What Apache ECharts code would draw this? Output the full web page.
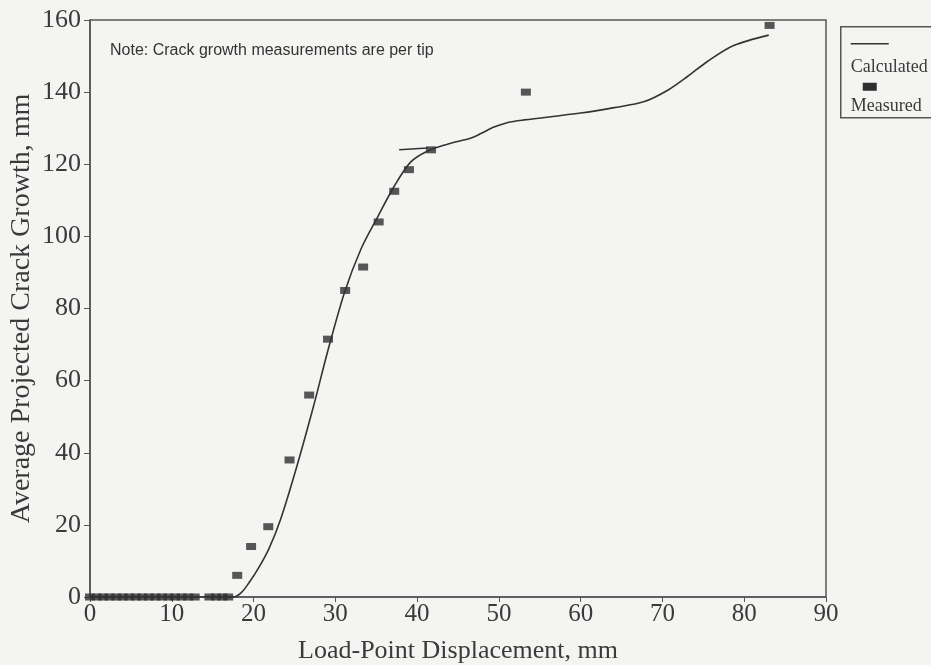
<!DOCTYPE html>
<html>
<head>
<meta charset="utf-8">
<script src="https://cdn.jsdelivr.net/npm/echarts@6/dist/echarts.min.js"></script>
<style>
  html, body { margin: 0; padding: 0; background: #f4f4f2; }
  #chart { width: 931px; height: 665px; }
</style>
</head>
<body>
<div id="chart"></div>
<script>
// measured points (displacement mm, crack growth mm)
const measuredX = [0, 0.8, 1.6, 2.4, 3.2, 4.0, 4.8, 5.6, 6.4, 7.2, 8.0, 8.8, 9.6, 10.4, 11.2, 12.0, 12.8,
  14.6, 15.4, 16.2, 16.9,
  18.0, 19.7, 21.8, 24.4, 26.8, 29.1, 31.2, 33.4, 35.3, 37.2, 39.0, 41.7, 53.3, 83.1]
const measuredY = [0, 0, 0, 0, 0, 0, 0, 0, 0, 0, 0, 0, 0, 0, 0, 0, 0,
  0, 0, 0, 0,
  6, 14, 19.5, 38, 56, 71.5, 85, 91.5, 104, 112.5, 118.5, 124, 140, 158.5]

// calculated curve
const calcX = [0, 17.6, 18.5, 19.4, 20.6, 21.9, 23.3, 25.2, 27.3, 29.1, 31.1, 33.1, 35.2, 37.2, 39.2, 41.3,
  43.8, 46.6, 47.8, 49.4, 51.1, 53.1, 60, 64.1, 67.7, 70.7, 73.1, 75.5, 78.7, 83]
const calcY = [0, 0, 1.2, 3.8, 8, 13.5, 21.5, 35.5, 52.6, 68.4, 84.3, 96.3, 105.5, 113.9, 120.6, 123.7,
  125.6, 127.3, 128.5, 130.3, 131.6, 132.3, 134.2, 135.7, 137.3, 140.6, 144.4, 148.5, 152.9, 155.8]
// short stub near the knee
const stubX = [37.8, 41.3]
const stubY = [124, 124.5]

const xTicks = { min: 0, max: 90, interval: 10 }
const yTicks = { min: 0, max: 160, interval: 20 }

const zip = (xs, ys) => xs.map((x, i) => [x, ys[i]])

const serif = "\"Liberation Serif\", \"DejaVu Serif\", serif"
const ink = "#3a3a3a"

const chart = echarts.init(document.getElementById("chart"))
const option = {
  animation: false,
  backgroundColor: "#f4f4f2",
  title: {
    text: "Note: Crack growth measurements are per tip",
    left: 105,
    top: 38,
    textStyle: {
      fontFamily: "\"Liberation Sans\", Arial, sans-serif",
      fontSize: 16,
      fontWeight: "normal",
      color: "#333"
    }
  },
  grid: {
    left: 90,
    right: 105,
    top: 20,
    bottom: 68,
    outerBoundsMode: "none",
    containLabel: false,
    show: true,
    borderColor: "#555",
    borderWidth: 1.5,
    backgroundColor: "transparent"
  },
  xAxis: {
    type: "value",
    min: xTicks.min,
    max: xTicks.max,
    interval: xTicks.interval,
    name: "Load-Point Displacement, mm",
    nameLocation: "middle",
    nameGap: 41,
    nameTextStyle: { fontFamily: serif, fontSize: 26, color: ink },
    axisLine: { show: true, lineStyle: { color: "#555", width: 1.5 } },
    axisTick: { show: true, length: 5, lineStyle: { color: "#555" } },
    axisLabel: { fontFamily: serif, fontSize: 25, color: ink, margin: 5 },
    splitLine: { show: false }
  },
  yAxis: {
    type: "value",
    min: yTicks.min,
    max: yTicks.max,
    interval: yTicks.interval,
    name: "Average Projected Crack Growth, mm",
    nameLocation: "middle",
    nameGap: 54,
    nameMoveOverlap: false,
    nameTextStyle: { fontFamily: serif, fontSize: 28, color: ink },
    axisLine: { show: true, lineStyle: { color: "#555", width: 1.5 } },
    axisTick: { show: true, length: 6, lineStyle: { color: "#555" } },
    axisLabel: { fontFamily: serif, fontSize: 26, color: ink, margin: 9 },
    splitLine: { show: false }
  },
  series: [
    {
      name: "Calculated",
      type: "line",
      smooth: 0.3,
      showSymbol: false,
      lineStyle: { color: "#333", width: 1.6 },
      data: zip(calcX, calcY)
    },
    {
      name: "Calculated",
      type: "line",
      showSymbol: false,
      lineStyle: { color: "#333", width: 1.6 },
      data: zip(stubX, stubY)
    },
    {
      name: "Measured",
      type: "scatter",
      symbol: "rect",
      symbolSize: [10, 7],
      itemStyle: { color: "#2e2e2e" },
      data: zip(measuredX, measuredY)
    }
  ],
  graphic: [
    {
      type: "group",
      left: 840,
      top: 26,
      children: [
        { type: "rect", shape: { x: 0, y: 0, width: 110, height: 91 },
          style: { fill: "transparent", stroke: "#555", lineWidth: 1.5 } },
        { type: "line", shape: { x1: 10, y1: 17, x2: 48, y2: 17 },
          style: { stroke: "#333", lineWidth: 1.6 } },
        { type: "text", x: 10, y: 41,
          style: { text: "Calculated", font: "18px " + serif, fill: ink, verticalAlign: "middle" } },
        { type: "rect", shape: { x: 22, y: 56, width: 14, height: 8 },
          style: { fill: "#2e2e2e" } },
        { type: "text", x: 10, y: 80,
          style: { text: "Measured", font: "18px " + serif, fill: ink, verticalAlign: "middle" } }
      ]
    }
  ]
}
chart.setOption(option)
</script>
</body>
</html>
